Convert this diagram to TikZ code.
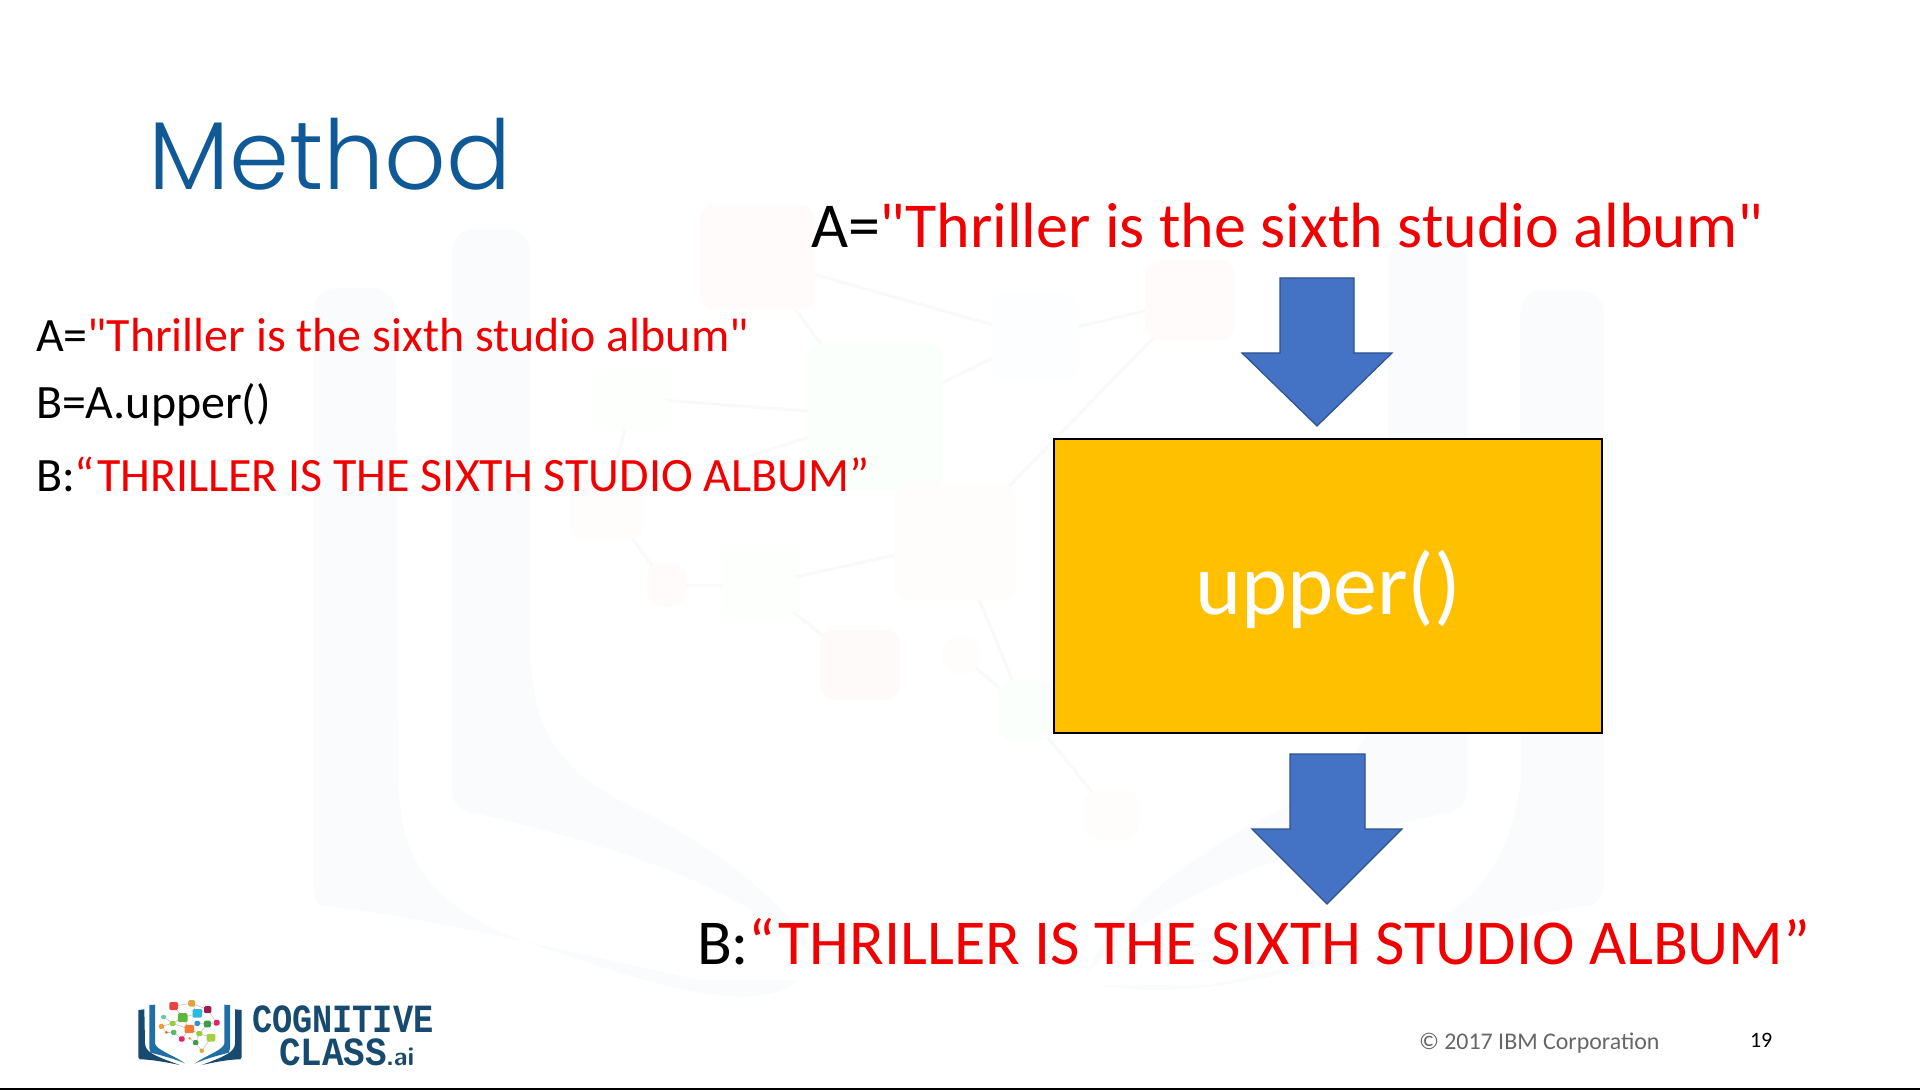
\documentclass[tikz,border=0pt]{standalone}
\usepackage{fontspec}
\newfontfamily\bodyfont{Carlito}
\newfontfamily\titlefont{Poppins}[UprightFont=* Light]
\newfontfamily\logofont[FakeStretch=0.84]{Liberation Mono Bold}
\newfontfamily\logofontb[FakeStretch=0.9]{Liberation Mono Bold}
\newcommand{\fs}[1]{\fontsize{#1}{#1}\selectfont}
\definecolor{titleblue}{HTML}{0F5A96}
\definecolor{txtred}{HTML}{F00000}
\definecolor{arrowblue}{HTML}{4472C4}
\definecolor{arrowedge}{HTML}{2F528F}
\definecolor{boxgold}{HTML}{FFC000}
\definecolor{logodark}{HTML}{174A6E}
\definecolor{logoblue}{HTML}{1F6EA5}
\definecolor{wmbook}{HTML}{F9FBFC}
\definecolor{wmlink}{HTML}{F8F9F9}
\tikzset{
  x=0.5pt,y=-0.5pt,
  txt/.style={anchor=base west,inner sep=0pt,outer sep=0pt},
  smalltxt/.style={txt,font=\bodyfont\fs{23.95}},
  bigtxt/.style={txt,font=\bodyfont\fs{32}},
  blockarrow/.style={fill=arrowblue,draw=arrowedge,line width=0.6pt,line join=miter},
  pale/.style={fill=#1,rounded corners=7pt,draw=none},
  brain/.style={fill=#1,draw=none,rounded corners=0.7pt},
  blink/.style={draw=gray!45,line width=0.3pt},
  wmlinkline/.style={draw=wmlink,line width=1.5pt},
}
\begin{document}
\begin{tikzpicture}
\useasboundingbox (0,0) rectangle (1920,1090);
\fill[white] (0,0) rectangle (1920,1090);
% watermark book
\fill[wmbook] (314,310) .. controls (314,295) and (325,288) .. (340,288) -- (370,288) .. controls (388,288) and (396,300) .. (396,315) -- (398,780) .. controls (400,860) and (430,905) .. (520,940) .. controls (640,980) and (750,1020) .. (800,980) -- (700,980) .. controls (600,960) and (450,920) .. (320,905) .. controls (314,900) and (314,890) .. (314,880) -- cycle;
\fill[wmbook] (452,252) .. controls (452,238) and (462,229) .. (478,229) -- (505,229) .. controls (522,229) and (530,240) .. (530,255) -- (530,640) .. controls (530,720) and (550,770) .. (640,810) .. controls (740,860) and (800,920) .. (830,975) .. controls (770,900) and (640,850) .. (470,812) .. controls (454,808) and (452,800) .. (452,780) -- cycle;
\fill[wmbook] (1604,315) .. controls (1604,300) and (1595,291) .. (1580,291) -- (1540,291) .. controls (1526,291) and (1520,302) .. (1520,315) -- (1521,780) .. controls (1510,860) and (1480,905) .. (1400,940) .. controls (1280,980) and (1180,1000) .. (1100,985) -- (1210,985) .. controls (1320,960) and (1470,925) .. (1590,905) .. controls (1602,900) and (1604,890) .. (1604,880) -- cycle;
\fill[wmbook] (1467,262) .. controls (1467,248) and (1458,239) .. (1445,239) -- (1410,239) .. controls (1395,239) and (1389,250) .. (1389,262) -- (1387,640) .. controls (1387,720) and (1360,770) .. (1280,810) .. controls (1180,860) and (1110,920) .. (1085,975) .. controls (1150,900) and (1280,850) .. (1450,812) .. controls (1465,808) and (1467,800) .. (1467,780) -- cycle;
% watermark brain
\foreach \p/\q/\r/\s in {757/258/875/416, 757/258/1035/337, 1035/337/1190/300, 1035/337/875/416, 875/416/633/398, 875/416/955/542, 633/398/606/502, 606/502/666/585, 666/585/759/585, 759/585/860/665, 759/585/955/542, 955/542/1190/300, 955/542/1025/710, 961/655/1025/710, 1025/710/1111/815, 606/502/875/416}{
  \draw[wmlinkline] (\p,\q) -- (\r,\s);
}
\foreach \a/\b/\c/\d/\e in {
 700/205/815/310/red!1.6!white,1145/260/1234/340/red!1.4!white,808/343/943/490/green!1.5!white,
 600/367/667/430/green!1.3!white,894/484/1016/600/red!1.2!white,570/465/643/540/orange!1.6!white,
 647/563/686/606/red!1.6!white,722/551/796/618/green!1.2!white,820/630/900/700/red!1.8!white,
 943/637/980/673/orange!1.3!white,998/680/1053/741/green!1.5!white,1084/790/1139/839/red!1.3!white,
 992/294/1078/380/cyan!1.3!white}{
  \fill[pale=\e] (\a,\b) rectangle (\c,\d);
}
% title
\node[txt,text=titleblue,font=\titlefont\fs{48.2}] (title) at (148,190) {Method};
% left text
\node[smalltxt] (la) at (36,352) {A=\textcolor{txtred}{"Thriller is the sixth studio album"}};
\node[smalltxt] (lb) at (36,419) {B=A.upper()};
\node[smalltxt] (lc) at (36,491) {B:\textcolor{txtred}{“THRILLER IS THE SIXTH STUDIO ALBUM”}};
% right text
\node[bigtxt] (ra) at (811,248) {A=\textcolor{txtred}{"Thriller is the sixth studio album"}};
\node[bigtxt] (rb) at (697,964) {B:\textcolor{txtred}{“THRILLER IS THE SIXTH STUDIO ALBUM”}};
% box
\node[draw=black,line width=1.1pt,fill=boxgold,minimum width=274pt,minimum height=147pt,inner sep=0pt,anchor=north west] (box) at (1053,438) {};
\node[txt,text=white,font=\bodyfont\fs{43.9}] (boxlabel) at (1195,614) {upper()};
% arrows
\draw[blockarrow] (1280,278) -- (1354,278) -- (1354,353) -- (1392,353) -- (1317,426) -- (1242,353) -- (1280,353) -- cycle;
\draw[blockarrow] (1290,754) -- (1365,754) -- (1365,829) -- (1402,829) -- (1327,904) -- (1252,829) -- (1290,829) -- cycle;
% footer
\node[txt,text=black!60,font=\bodyfont\fs{11.95}] (copy) at (1419,1049) {© 2017 IBM Corporation};
\node[txt,font=\bodyfont\fs{11}] (page) at (1750,1047) {19};
\fill[black] (0,1088) rectangle (1920,1090);
% logo
\begin{scope}[shift={(100,960)},x=0.1667pt,y=-0.1667pt]
 \fill[logodark] (115,150) -- (133,148) -- (135,250) .. controls (137,275) and (155,285) .. (240,315) .. controls (190,305) and (150,298) .. (120,298) -- (115,292) -- cycle;
 \fill[logoblue] (148,135) -- (165,134) -- (165,250) .. controls (168,270) and (220,285) .. (255,310) .. controls (220,295) and (180,285) .. (152,278) -- (148,265) -- cycle;
 \fill[logodark] (425,150) -- (405,148) -- (405,250) .. controls (403,275) and (385,285) .. (305,315) .. controls (350,305) and (390,298) .. (420,298) -- (425,292) -- cycle;
 \fill[logoblue] (390,135) -- (373,134) -- (373,250) .. controls (370,270) and (320,285) .. (285,310) .. controls (320,295) and (360,285) .. (386,278) -- (390,265) -- cycle;
 \foreach \p/\q/\r/\s in {221/138/275/130, 221/138/248/173, 275/130/292/160, 275/130/323/149, 248/173/292/160, 292/160/323/149, 191/171/218/190, 218/190/248/173, 218/190/268/207, 248/173/268/207, 292/190/268/207, 292/190/322/192, 322/192/350/188, 323/149/350/188, 184/199/218/190, 184/199/199/217, 199/217/221/217, 221/217/245/237, 268/207/245/237, 268/207/298/221, 298/221/333/233, 298/221/287/248, 287/248/305/272, 333/233/305/272, 322/192/298/221, 269/235/287/248}{
   \draw[blink] (\p,\q) -- (\r,\s);
 }
 \foreach \x/\y/\w/\h/\c in {221/138/26/24/E9423F, 275/130/21/19/DDA63A, 323/149/22/21/A01C4C, 292/160/29/26/2EB8E0, 248/173/29/27/5DB83A, 191/171/15/13/6FC6A0, 218/190/18/15/9CCB3B, 292/190/16/15/2E8FD0, 322/192/21/20/3F9B46, 350/188/17/17/E0246E, 184/199/15/15/F0A030, 199/217/9/9/F07030, 221/217/16/15/55B86E, 268/207/29/25/F57C31, 298/221/18/15/9CCB3B, 333/233/26/23/A5CF3F, 245/237/17/16/E3246E, 269/235/9/8/F59A3C, 287/248/16/15/3F9B46, 305/272/13/13/E0A83C}{
   \definecolor{nodecol}{HTML}{\c}
   \fill[brain=nodecol] ({\x-\w/2},{\y-\h/2}) rectangle ({\x+\w/2},{\y+\h/2});
 }
\end{scope}
\node[txt,text=logodark,font=\logofont\fs{20}] (logoa) at (252,1032) {COGNITIVE};
\node[txt,text=logodark,font=\logofontb\fs{20}] (logob) at (279,1065) {CLASS};
\node[txt,text=logodark,font=\sffamily\bfseries\fs{13}] (logoc) at (386,1065) {.ai};
\end{tikzpicture}
\end{document}
